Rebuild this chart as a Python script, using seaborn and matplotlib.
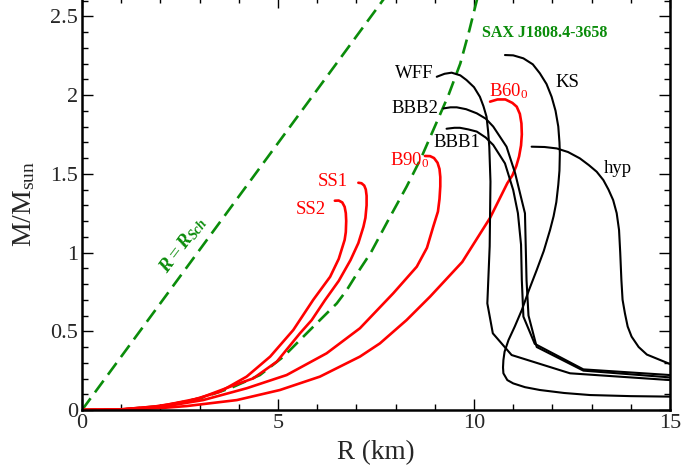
import numpy as np
import pandas as pd
import matplotlib
matplotlib.use("Agg")
import matplotlib.pyplot as plt
import seaborn as sns
from matplotlib.ticker import MultipleLocator, FormatStrFormatter

# ---------------- data (R in km, M in solar masses) ----------------
sch_r = [0.0, 7.9]
sch_m = [0.0, 7.9 / 2.95]

sax_r = [0.0, 1.0, 2.07, 3.01, 3.78, 4.54, 5.14, 5.90, 6.50, 6.75, 7.0, 7.37, 7.8, 8.28, 8.65, 9.0, 9.35, 9.65, 9.88, 10.07, 10.12]
sax_m = [0.0, 0.003, 0.025, 0.074, 0.138, 0.222, 0.339, 0.529, 0.677, 0.76, 0.86, 1.0, 1.2, 1.418, 1.6, 1.8, 2.0, 2.2, 2.41, 2.6, 2.65]

ss2_r = [0.0, 1.0, 1.82, 2.67, 3.52, 4.20, 4.80, 5.39, 5.90, 6.33, 6.55, 6.70, 6.73, 6.74, 6.73, 6.70, 6.64, 6.55, 6.45]
ss2_m = [0.0, 0.004, 0.021, 0.053, 0.116, 0.212, 0.339, 0.508, 0.70, 0.846, 0.96, 1.08, 1.13, 1.20, 1.25, 1.29, 1.318, 1.33, 1.329]

ss1_r = [0.0, 1.0, 2.0, 3.0, 3.8, 4.37, 4.97, 5.56, 5.86, 6.20, 6.55, 6.85, 7.05, 7.18, 7.23, 7.26, 7.26, 7.24, 7.20, 7.13, 7.05]
ss1_m = [0.0, 0.004, 0.025, 0.075, 0.15, 0.201, 0.307, 0.487, 0.571, 0.698, 0.82, 0.952, 1.06, 1.164, 1.22, 1.30, 1.36, 1.40, 1.425, 1.44, 1.443]

b90_r = [0.0, 1.0, 2.0, 3.09, 4.20, 5.22, 6.24, 7.09, 7.94, 8.54, 8.80, 8.96, 9.08, 9.12, 9.14, 9.14, 9.12, 9.07, 8.98, 8.88, 8.75]
b90_m = [0.0, 0.003, 0.018, 0.063, 0.138, 0.222, 0.36, 0.519, 0.741, 0.91, 1.03, 1.164, 1.26, 1.34, 1.42, 1.48, 1.53, 1.57, 1.60, 1.612, 1.613]

b60_r = [0.0, 1.0, 2.0, 2.67, 3.95, 5.05, 6.07, 7.09, 7.60, 8.28, 8.88, 9.70, 10.41, 10.85, 10.98, 11.08, 11.15, 11.20, 11.22, 11.21, 11.17, 11.09, 10.98, 10.80, 10.60, 10.41]
b60_m = [0.0, 0.002, 0.012, 0.025, 0.063, 0.127, 0.212, 0.339, 0.423, 0.571, 0.72, 0.94, 1.22, 1.44, 1.49, 1.55, 1.61, 1.68, 1.75, 1.82, 1.88, 1.926, 1.95, 1.972, 1.972, 1.958]

wff_r = [9.05, 9.25, 9.43, 9.65, 9.81, 10.0, 10.15, 10.24, 10.32, 10.36, 10.39, 10.42, 10.40, 10.34, 10.48, 10.96, 12.45, 15.0]
wff_m = [2.116, 2.135, 2.142, 2.125, 2.095, 2.05, 1.989, 1.93, 1.862, 1.77, 1.672, 1.45, 1.04, 0.677, 0.487, 0.349, 0.233, 0.19]

bbb1_r = [9.30, 9.50, 9.64, 9.85, 10.07, 10.30, 10.49, 10.79, 11.0, 11.12, 11.20, 11.22, 11.26, 11.55, 12.79, 15.0]
bbb1_m = [1.786, 1.792, 1.792, 1.782, 1.768, 1.73, 1.683, 1.566, 1.397, 1.25, 1.05, 0.825, 0.593, 0.42, 0.258, 0.222]

bbb2_r = [9.22, 9.40, 9.56, 9.80, 10.07, 10.30, 10.49, 10.83, 11.05, 11.20, 11.30, 11.34, 11.39, 11.60, 12.79, 15.0]
bbb2_m = [1.915, 1.922, 1.922, 1.91, 1.884, 1.85, 1.80, 1.672, 1.503, 1.35, 1.249, 0.825, 0.60, 0.40, 0.25, 0.207]

ks_r = [10.79, 11.0, 11.26, 11.50, 11.68, 11.85, 11.98, 12.08, 12.15, 12.18, 12.19, 12.18, 12.15, 12.10, 12.03, 11.94, 11.78, 11.6, 11.40, 11.22,
        11.04, 10.88, 10.78, 10.75, 10.74, 10.75, 10.85, 11.0, 11.3, 11.68, 12.3, 12.96, 14.0, 15.0]
ks_m = [2.254, 2.252, 2.233, 2.195, 2.138, 2.07, 1.989, 1.9, 1.8, 1.7, 1.63, 1.52, 1.43, 1.32, 1.23, 1.143, 1.01, 0.889, 0.76, 0.635,
        0.53, 0.444, 0.37, 0.317, 0.27, 0.233, 0.19, 0.169, 0.145, 0.127, 0.108, 0.095, 0.088, 0.085]

hyp_r = [11.47, 11.8, 12.11, 12.40, 12.70, 12.93, 13.13, 13.30, 13.43, 13.55, 13.64, 13.70, 13.73, 13.76, 13.79, 13.85, 13.92, 14.02, 14.2, 14.41, 15.0]
hyp_m = [1.672, 1.67, 1.661, 1.638, 1.598, 1.555, 1.513, 1.46, 1.40, 1.333, 1.25, 1.143, 1.0, 0.825, 0.7, 0.614, 0.53, 0.466, 0.40, 0.352, 0.292]

x_ticks = [0, 5, 10, 15]
y_ticks = [0, 0.5, 1, 1.5, 2, 2.5]

# ---------------- style ----------------
sns.set_style("ticks")
plt.rcParams["font.family"] = ["Liberation Serif", "DejaVu Serif"]
plt.rcParams["mathtext.fontset"] = "custom"
plt.rcParams["mathtext.rm"] = "Liberation Serif"
plt.rcParams["mathtext.it"] = "Liberation Serif:italic:bold"
plt.rcParams["mathtext.bf"] = "Liberation Serif:bold"

GREEN = "#0a8c0a"
RED = "#ff0000"

fig = plt.figure(figsize=(6.82, 4.67), dpi=100)
ax = fig.add_axes([82 / 682, 57 / 467, 588 / 682, 412.6 / 467])

def draw(r, m, color, lw, dashed=False):
    df = pd.DataFrame({"R": r, "M": m})
    line_kw = dict(dashes=(5.5, 2.8)) if dashed else {}
    sns.lineplot(data=df, x="R", y="M", sort=False, estimator=None, ax=ax,
                 color=color, lw=lw, **line_kw)

draw(sch_r, sch_m, GREEN, 1.9, dashed=True)
draw(sax_r, sax_m, GREEN, 1.9, dashed=True)
for r, m in [(ss2_r, ss2_m), (ss1_r, ss1_m), (b90_r, b90_m), (b60_r, b60_m)]:
    draw(r, m, RED, 1.9)
for r, m in [(wff_r, wff_m), (bbb1_r, bbb1_m), (bbb2_r, bbb2_m), (ks_r, ks_m), (hyp_r, hyp_m)]:
    draw(r, m, "black", 1.5)

ax.set_xlim(0, 15)
ax.set_ylim(0, 2.62)
ax.set_xticks(x_ticks)
ax.set_yticks(y_ticks)
ax.xaxis.set_minor_locator(MultipleLocator(1))
ax.yaxis.set_minor_locator(MultipleLocator(0.1))
ax.xaxis.set_major_formatter(FormatStrFormatter("%g"))
ax.yaxis.set_major_formatter(FormatStrFormatter("%g"))
ax.tick_params(which="both", direction="in", top=True, right=True, width=1.0, color="black")
ax.tick_params(which="major", length=8, labelsize=16, pad=3)
ax.tick_params(which="minor", length=4)
for s in ax.spines.values():
    s.set_linewidth(1.8)
    s.set_color("black")

ax.set_xlabel("R (km)", fontsize=19.5, labelpad=5)
ax.set_ylabel(r"M/M$_{\rm sun}$", fontsize=20, labelpad=9)

# ---------------- annotations ----------------
ax.text(10.20, 2.366, "SAX J1808.4-3658", color=GREEN, fontsize=11.5, fontweight="bold",
        ha="left", va="baseline")
ax.text(2.58, 1.05, r"$R = R_{Sch}$", color=GREEN, fontsize=14, rotation=53,
        ha="center", va="center")

lab = dict(fontsize=13.5, va="baseline")
ax.text(8.96, 2.106, "WFF", color="black", ha="right", **lab)
ax.text(9.09, 1.884, "BBB2", color="black", ha="right", **lab)
ax.text(8.96, 1.668, "BBB1", color="black", ha="left", **lab)
ax.text(12.07, 2.053, "KS", color="black", ha="left", **lab)
ax.text(13.30, 1.503, "hyp", color="black", ha="left", **lab)
ax.text(6.79, 1.424, "SS1", color=RED, ha="right", **lab)
ax.text(6.22, 1.242, "SS2", color=RED, ha="right", **lab)
ax.text(7.86, 1.551, r"B90$_0$", color=RED, ha="left", **lab)
ax.text(10.39, 1.994, r"B60$_0$", color=RED, ha="left", **lab)

fig.savefig("out.png", dpi=100)
